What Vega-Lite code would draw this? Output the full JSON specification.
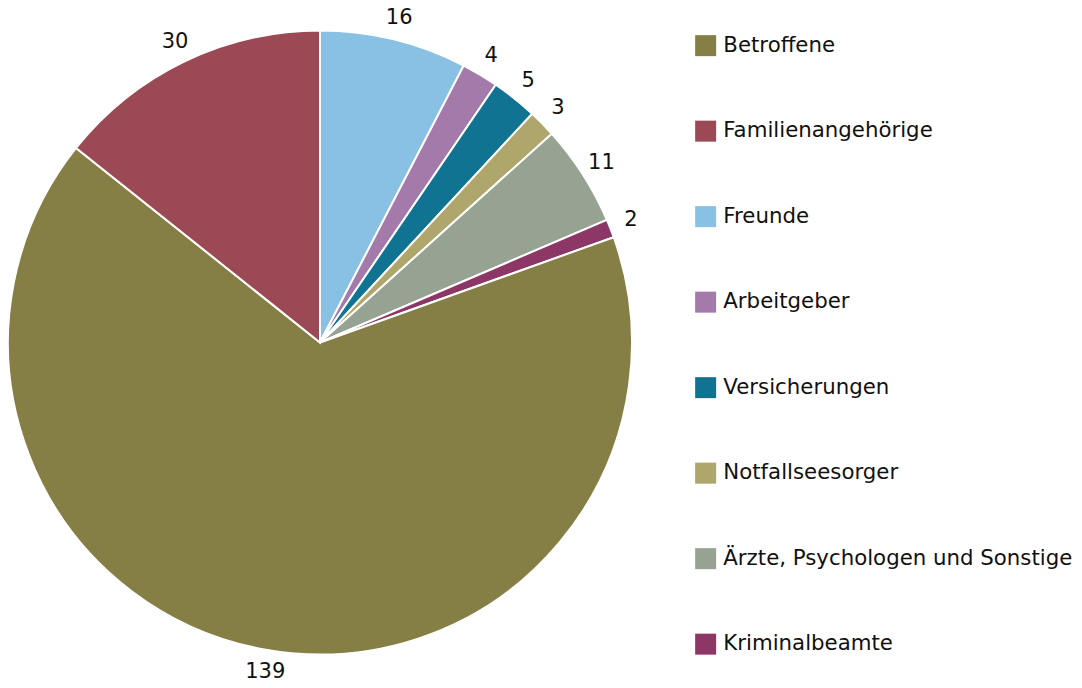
{
  "$schema": "https://vega.github.io/schema/vega-lite/v6.json",
  "width": 640,
  "height": 685,
  "padding": 0,
  "autosize": {"type": "pad"},
  "background": "white",
  "config": {"view": {"stroke": null}, "font": "DejaVu Sans"},
  "data": {
    "values": [
      {"name": "Freunde", "value": 16, "o": 1},
      {"name": "Arbeitgeber", "value": 4, "o": 2},
      {"name": "Versicherungen", "value": 5, "o": 3},
      {"name": "Notfallseesorger", "value": 3, "o": 4},
      {"name": "Ärzte, Psychologen und Sonstige", "value": 11, "o": 5},
      {"name": "Kriminalbeamte", "value": 2, "o": 6},
      {"name": "Betroffene", "value": 139, "o": 7},
      {"name": "Familienangehörige", "value": 30, "o": 8}
    ]
  },
  "encoding": {
    "theta": {"field": "value", "type": "quantitative", "stack": true},
    "order": {"field": "o", "type": "quantitative"}
  },
  "layer": [
    {
      "mark": {"type": "arc", "outerRadius": 312, "stroke": "white", "strokeWidth": 2},
      "encoding": {
        "color": {
          "field": "name",
          "type": "nominal",
          "scale": {
            "domain": ["Betroffene", "Familienangehörige", "Freunde", "Arbeitgeber", "Versicherungen", "Notfallseesorger", "Ärzte, Psychologen und Sonstige", "Kriminalbeamte"],
            "range": ["#857f45", "#9b4955", "#89c1e4", "#a47aab", "#0f7391", "#aea66a", "#97a392", "#8d3766"]
          },
          "legend": {
            "title": null,
            "orient": "none",
            "legendX": 695,
            "legendY": 35,
            "symbolType": "square",
            "symbolSize": 441,
            "symbolStrokeWidth": 0,
            "labelFontSize": 21.3,
            "labelFont": "DejaVu Sans",
            "labelColor": "#111111",
            "labelOffset": 7,
            "rowPadding": 62.5,
            "labelLimit": 400
          }
        }
      }
    },
    {
      "mark": {"type": "text", "radius": 334, "fontSize": 21, "font": "DejaVu Sans", "color": "#111111", "align": "center", "baseline": "middle"},
      "encoding": {
        "text": {"field": "value", "type": "quantitative"}
      }
    }
  ]
}
